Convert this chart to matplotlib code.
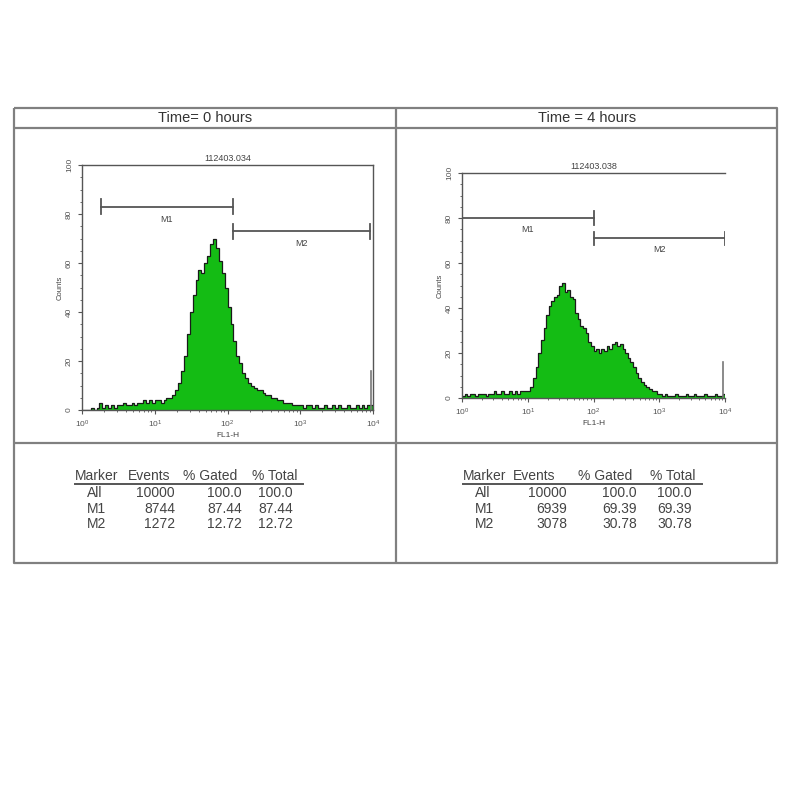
import numpy as np
import matplotlib
matplotlib.use("Agg")
import matplotlib.pyplot as plt

plt.rcParams["font.family"] = ["Liberation Sans", "DejaVu Sans"]

# ---- data ----------------------------------------------------------------
panel_titles = ["Time= 0 hours", "Time = 4 hours"]
sample_ids = ["112403.034", "112403.038"]

# counts per channel, 100 log channels spanning 10^0 .. 10^4
counts_0h = [
    0, 0, 0, 1, 0, 1, 3, 1, 2, 1,
    2, 1, 2, 2, 3, 2, 2, 3, 2, 3,
    3, 4, 3, 4, 3, 4, 4, 3, 4, 5,
    5, 6, 8, 11, 16, 22, 31, 40, 47, 53,
    57, 56, 60, 63, 68, 70, 66, 61, 56, 50,
    42, 35, 28, 22, 19, 15, 13, 11, 10, 9,
    8, 8, 7, 6, 6, 5, 5, 4, 4, 3,
    3, 3, 2, 2, 2, 2, 1, 2, 2, 1,
    2, 1, 1, 2, 1, 1, 2, 1, 2, 1,
    1, 2, 1, 1, 2, 1, 2, 1, 2, 2,
]
counts_4h = [
    1, 2, 1, 2, 2, 1, 2, 2, 2, 1,
    2, 2, 3, 2, 2, 3, 2, 2, 3, 2,
    3, 2, 3, 3, 3, 3, 5, 9, 14, 20,
    26, 31, 37, 41, 43, 45, 46, 50, 51, 47,
    48, 45, 44, 38, 35, 32, 31, 29, 25, 23,
    21, 22, 20, 22, 21, 23, 22, 24, 25, 23,
    24, 22, 20, 18, 16, 14, 11, 9, 7, 6,
    5, 4, 3, 3, 2, 2, 1, 2, 1, 1,
    1, 2, 1, 1, 1, 2, 1, 1, 2, 1,
    1, 1, 2, 1, 1, 1, 2, 1, 1, 2,
]

# gate markers: (name, start, end, level)
markers_0h = [("M1", 1.8, 118, 83), ("M2", 118, 9000, 73)]
markers_4h = [("M1", 1.0, 100, 80), ("M2", 100, 10000, 71)]
end_line_height = 16

table_header = ["Marker", "Events", "% Gated", "% Total"]
table_names = ["All", "M1", "M2"]
events_0h = ["10000", "8744", "1272"]
gated_0h = ["100.0", "87.44", "12.72"]
total_0h = ["100.0", "87.44", "12.72"]
events_4h = ["10000", "6939", "3078"]
gated_4h = ["100.0", "69.39", "30.78"]
total_4h = ["100.0", "69.39", "30.78"]

GREEN = "#14bc14"
GRAY = "#808080"
TXT = "#444444"

fig = plt.figure(figsize=(8, 8), dpi=100)

# background axes in pixel coordinates (y from top)
bg = fig.add_axes([0, 0, 1, 1])
bg.set_xlim(0, 800)
bg.set_ylim(800, 0)
bg.axis("off")

box_kw = dict(color=GRAY, lw=1.6, solid_capstyle="butt")
bg.plot([14, 777, 777, 14, 14], [108, 108, 563, 563, 108], **box_kw)
bg.plot([14, 777], [128, 128], **box_kw)
bg.plot([14, 777], [443, 443], **box_kw)
bg.plot([396, 396], [108, 563], **box_kw)
bg.text(205, 118, panel_titles[0], ha="center", va="center", fontsize=10.5, color="#333333")
bg.text(587, 118, panel_titles[1], ha="center", va="center", fontsize=10.5, color="#333333")


def draw_hist(rect, counts, markers, sample, frame_right):
    ax = fig.add_axes(rect)
    edges = np.logspace(0, 4, len(counts) + 1)
    ax.stairs(counts, edges, fill=True, color=GREEN, lw=0)
    ax.stairs(counts, edges, color="#1a1a1a", lw=0.9)
    ax.set_xscale("log")
    ax.set_xlim(1, 1e4)
    ax.set_ylim(0, 100)
    ax.set_yticks([0, 20, 40, 60, 80, 100])
    ax.set_yticks(np.arange(0, 101, 5), minor=True)
    ax.tick_params(which="both", direction="out", colors="#555555", labelsize=6)
    ax.tick_params(which="major", length=3, width=0.8)
    ax.tick_params(which="minor", length=1.5, width=0.6)
    for lbl in ax.get_yticklabels():
        lbl.set_rotation(90)
        lbl.set_va("center")
    for side in ["left", "bottom", "top", "right"]:
        ax.spines[side].set_color("#555555")
        ax.spines[side].set_linewidth(1.0)
    if not frame_right:
        ax.spines["right"].set_visible(False)
    ax.set_xlabel("FL1-H", fontsize=6, color="#444444", labelpad=1)
    ax.set_ylabel("Counts", fontsize=5.5, color="#444444", labelpad=2)
    ax.set_title(sample, fontsize=6.5, color="#444444", pad=3)
    for name, x0, x1, lvl in markers:
        ax.plot([x0, x1], [lvl, lvl], color="#555555", lw=1.3)
        ax.plot([x0, x0], [lvl - 3, lvl + 3], color="#555555", lw=1.3)
        ax.plot([x1, x1], [lvl - 3, lvl + 3], color="#555555", lw=1.3)
        ax.text(np.sqrt(x0 * x1), lvl - 5, name, ha="center", va="center",
                fontsize=6.5, color="#444444")
    ax.plot([9300, 9300], [0, end_line_height], color="#777777", lw=1.2)
    return ax


draw_hist([0.1025, 0.4875, 0.364, 0.306], counts_0h, markers_0h, sample_ids[0], True)
draw_hist([0.5775, 0.5025, 0.329, 0.281], counts_4h, markers_4h, sample_ids[1], False)


def draw_table(x_cols, x_right, names, events, gated, total):
    tkw = dict(va="center", fontsize=10, color=TXT)
    for x, h in zip(x_cols, table_header):
        bg.text(x, 476, h, ha="left", **tkw)
    bg.plot([x_cols[0], x_right[-1] + 10], [484, 484], color="#555555", lw=1.4)
    rows_y = [493, 509, 524]
    for y, n, e, g, t in zip(rows_y, names, events, gated, total):
        bg.text(x_cols[0] + 12, y, n, ha="left", **tkw)
        bg.text(x_right[0], y, e, ha="right", **tkw)
        bg.text(x_right[1], y, g, ha="right", **tkw)
        bg.text(x_right[2], y, t, ha="right", **tkw)


draw_table([75, 128, 183, 252], [175, 242, 293], table_names, events_0h, gated_0h, total_0h)
draw_table([463, 513, 578, 650], [567, 637, 692], table_names, events_4h, gated_4h, total_4h)

fig.savefig("out.png", dpi=100)
